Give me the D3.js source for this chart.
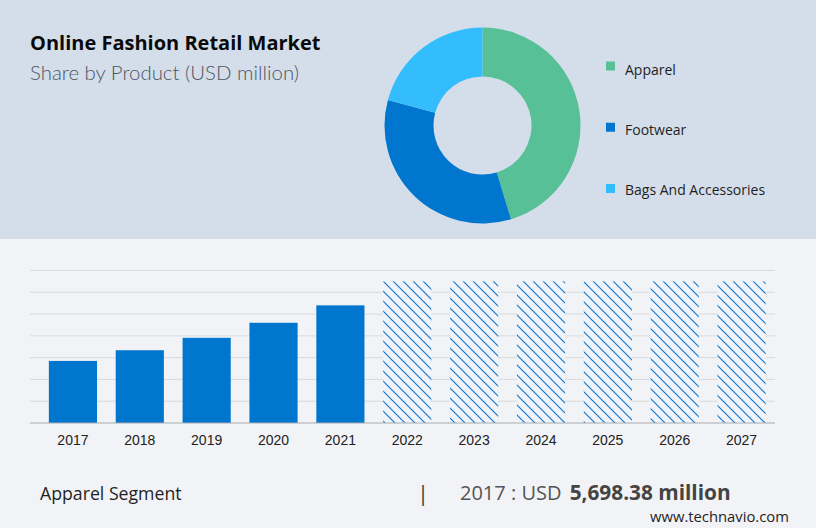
<!DOCTYPE html>
<html>
<head>
<meta charset="utf-8">
<script src="https://cdn.jsdelivr.net/npm/d3@7"></script>
<style>
  html, body { margin: 0; padding: 0; background: #f2f3f6; }
  svg { display: block; }
  text { fill: #1f1f1f; }
</style>
</head>
<body>
<div id="chart"></div>
<script>
// donut data (percent of market)
var products = ["Apparel", "Footwear", "Bags And Accessories"];
var shares = [45.3, 33.9, 20.8];
var productColors = ["#57c096", "#0076ce", "#33bdfd"];

// bar data (USD million), 2022+ are forecast bars drawn hatched
var years = ["2017", "2018", "2019", "2020", "2021", "2022", "2023", "2024", "2025", "2026", "2027"];
var revenue = [5698.38, 6680, 7820, 9200, 10800, 13000, 13000, 13000, 13000, 13000, 13000];
var firstForecast = 5;
var gridTicks = [0, 2000, 4000, 6000, 8000, 10000, 12000, 14000];

var width = 816, height = 528;

var svg = d3.select("#chart").append("svg")
  .attr("width", width)
  .attr("height", height);

// hatch for the forecast bars
var hatch = svg.append("defs").append("pattern")
  .attr("id", "hatch")
  .attr("patternUnits", "userSpaceOnUse")
  .attr("x", 383)
  .attr("y", 281)
  .attr("width", 10)
  .attr("height", 10);
hatch.append("rect").attr("width", 10).attr("height", 10).attr("fill", "#f1f5fb");
hatch.append("path")
  .attr("d", "M-2,-2L12,12M-2,8L2,12M8,-2L12,2")
  .attr("stroke", "#1278cf")
  .attr("stroke-width", 1.2)
  .attr("fill", "none");

// header panel
svg.append("rect")
  .attr("width", width)
  .attr("height", 239)
  .attr("fill", "#d4deea");

svg.append("text")
  .attr("x", 30).attr("y", 50)
  .style("font-family", "'Open Sans'")
  .style("font-weight", 700)
  .style("font-size", "20px")
  .style("fill", "#0a0a0a")
  .text("Online Fashion Retail Market");

svg.append("text")
  .attr("x", 30).attr("y", 80)
  .style("font-family", "Lato")
  .style("font-weight", 300)
  .style("font-size", "20.4px")
  .style("fill", "#4d5563")
  .text("Share by Product (USD million)");

// donut
var pie = d3.pie().sort(null);
var arc = d3.arc().innerRadius(49).outerRadius(98);

svg.append("g")
  .attr("transform", "translate(482.5,125.5)")
  .selectAll("path")
  .data(pie(shares))
  .enter()
  .append("path")
  .attr("d", arc)
  .attr("fill", (d, i) => productColors[i]);

// legend, markers and labels are not spaced quite the same in the original
var markerY = d3.scalePoint().domain(products).range([61.5, 184]);
var labelY = d3.scalePoint().domain(products).range([75, 195]);

var legend = svg.append("g")
  .selectAll("g")
  .data(products)
  .enter()
  .append("g");

legend.append("rect")
  .attr("x", 606)
  .attr("y", d => markerY(d))
  .attr("width", 9).attr("height", 9)
  .attr("fill", (d, i) => productColors[i]);

legend.append("text")
  .attr("x", 625)
  .attr("y", d => labelY(d))
  .style("font-family", "'Open Sans'")
  .style("font-size", "14px")
  .text(d => d);

// bar chart
var x = d3.scaleBand()
  .domain(years)
  .range([39.5, 775])
  .paddingInner(0.28)
  .paddingOuter(0.14);

var y = d3.scaleLinear()
  .domain([0, 14000])
  .range([423, 270.5]);

svg.append("g")
  .selectAll("line")
  .data(gridTicks.slice(1))
  .enter()
  .append("line")
  .attr("x1", 30).attr("x2", 775)
  .attr("y1", d => y(d)).attr("y2", d => y(d))
  .attr("stroke", "#d8dade")
  .attr("stroke-width", 1);

svg.append("g")
  .selectAll("rect")
  .data(revenue)
  .enter()
  .append("rect")
  .attr("x", (d, i) => x(years[i]))
  .attr("y", d => y(d))
  .attr("width", x.bandwidth())
  .attr("height", d => y(0) - y(d))
  .attr("fill", (d, i) => i < firstForecast ? "#0076ce" : "url(#hatch)");

var xAxis = svg.append("g")
  .attr("transform", "translate(0,423)")
  .call(d3.axisBottom(x).tickSize(0).tickPadding(12));

xAxis.select(".domain").remove();
xAxis.append("line")
  .attr("x1", 30).attr("x2", 775)
  .attr("stroke", "#a9abaf")
  .attr("stroke-width", 1);
xAxis.selectAll("text")
  .style("font-family", "'Liberation Sans'")
  .style("font-size", "14px")
  .style("fill", "#222");

// footer
svg.append("text")
  .attr("x", 40).attr("y", 500)
  .style("font-family", "'Open Sans'")
  .style("font-size", "17.7px")
  .text("Apparel Segment");

svg.append("text")
  .attr("x", 417).attr("y", 501)
  .style("font-family", "'Open Sans'")
  .style("font-size", "22px")
  .style("fill", "#444")
  .text("|");

var footer = svg.append("text")
  .attr("x", 460).attr("y", 500)
  .style("font-family", "'Open Sans'")
  .style("font-size", "20px")
  .style("fill", "#555");
footer.append("tspan").text(`${years[0]} : USD `);
footer.append("tspan")
  .attr("dx", 3)
  .style("font-weight", 700)
  .style("font-size", "20.8px")
  .style("fill", "#444")
  .text(d3.format(",.2f")(revenue[0]) + " million");

svg.append("text")
  .attr("x", 650).attr("y", 522)
  .style("font-family", "'Open Sans'")
  .style("font-size", "14.8px")
  .text("www.technavio.com");
</script>
</body>
</html>
